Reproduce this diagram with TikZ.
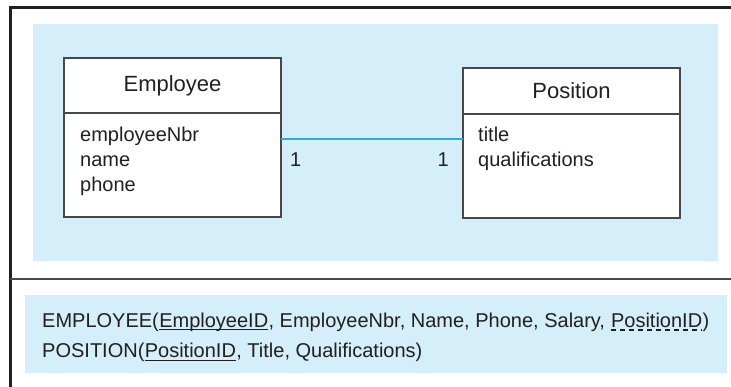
\documentclass[tikz,border=0pt]{standalone}
\usepackage{fontspec}
\setmainfont{Liberation Sans}
\usetikzlibrary{positioning, calc}
\definecolor{panelblue}{RGB}{212,238,250}
\definecolor{linkblue}{RGB}{41,171,226}
\definecolor{framedark}{RGB}{35,31,32}
\definecolor{boxgray}{RGB}{72,72,72}
\newcommand{\attrfont}{\fontsize{20}{24}\selectfont}
\newcommand{\titlefont}{\fontsize{22}{26}\selectfont}

\begin{document}
\begin{tikzpicture}[
    x=1pt, y=-1pt,
    panel/.style={fill=panelblue},
    frame/.style={draw=framedark, line width=2.5pt},
    divider/.style={draw=boxgray, line width=1.5pt},
    classhead/.style={draw=boxgray, line width=1.2pt, fill=white, inner sep=0pt, outer sep=0pt,
                      minimum width=217pt, minimum height=#1, anchor=north west,
                      font=\titlefont, text=framedark},
    classbody/.style={draw=boxgray, line width=1.2pt, fill=white, inner sep=0pt, outer sep=0pt,
                      minimum width=217pt, minimum height=104pt},
    attr/.style={inner sep=0pt, anchor=base west, font=\attrfont, text=framedark},
    link/.style={draw=linkblue, line width=1.3pt},
    pkline/.style={draw=framedark, line width=1pt},
    fkline/.style={draw=framedark, line width=1.1pt, dash pattern=on 5pt off 4pt},
]
\useasboundingbox (0,0) rectangle (731,387);

% Panels and frame
\fill[panel] (33,24) rectangle (718,261);
\fill[panel] (25,295) rectangle (727,373);
\draw[frame] (731,7.3) -- (10.3,7.3) -- (10.3,387);
\draw[divider] (10.3,279) -- (731,279);

% Employee class
\node[classhead=55pt]               (emphead) at (64,58) {Employee};
\node[classbody, below=0pt of emphead] (empbody) {};
\node[attr] (enbr)  at (80,141.5)                   {employeeNbr};
\node[attr] (ename) at ($(enbr.base west)+(0,25)$)  {name};
\node[attr] (ephon) at ($(ename.base west)+(0,25)$) {phone};

% Position class
\node[classhead=46pt]               (poshead) at (463,68) {Position};
\node[classbody, below=0pt of poshead] (posbody) {};
\node[attr] (ptitle) at (478,142)                     {title};
\node[attr] (pqual)  at ($(ptitle.base west)+(0,25)$) {qualifications};

% Association
\draw[link] ([yshift=-26pt]empbody.north east) -- ([yshift=-26pt]empbody.north east -| posbody.west);
\node[attr]                   (mult1) at (290,167) {1};
\node[attr, anchor=base east] (mult2) at (449,167) {1};

% Relations
\node[attr] (emprel)  at (42,327)          {EMPLOYEE(};
\node[attr] (emppk)   at (emprel.base east) {EmployeeID};
\node[attr] (emprest) at (emppk.base east)  {, EmployeeNbr, Name, Phone, Salary,};
\node[attr] (empfk)   at ([xshift=5.56pt]emprest.base east) {PositionID};
\node[attr] (empend)  at (empfk.base east)  {)};
\node[attr] (posrel)  at ($(emprel.base west)+(0,30)$) {POSITION(};
\node[attr] (pospk)   at (posrel.base east) {PositionID};
\node[attr] (posrest) at (pospk.base east)  {, Title, Qualifications)};

\draw[pkline] ([yshift=-3pt]emppk.base west) -- ([yshift=-3pt]emppk.base east);
\draw[fkline] ([yshift=-3pt]empfk.base west) -- ([yshift=-3pt]empfk.base east);
\draw[pkline] ([yshift=-3pt]pospk.base west) -- ([yshift=-3pt]pospk.base east);
\end{tikzpicture}
\end{document}
